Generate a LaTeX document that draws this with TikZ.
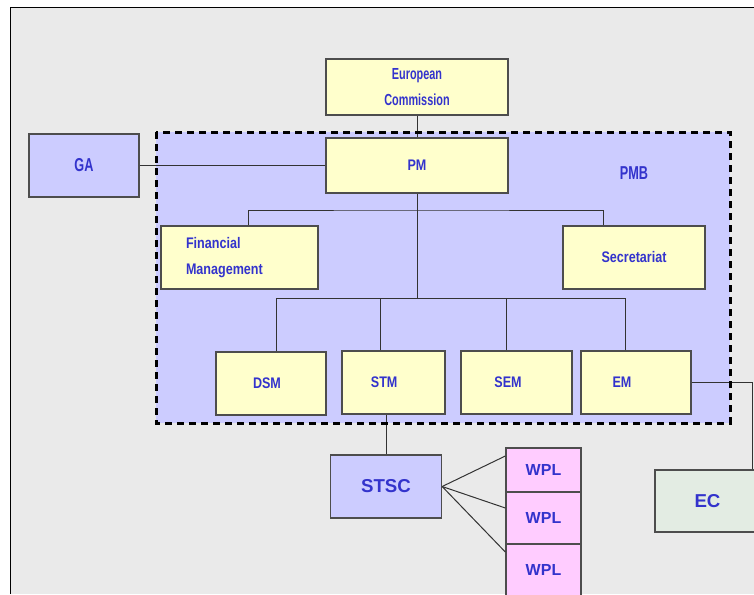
\documentclass[tikz,border=0pt]{standalone}
\usepackage{fontspec}
\setmainfont{Liberation Sans}
\newfontfamily\fwide{Liberation Sans}
\newfontfamily\fmid{Liberation Sans}[FakeStretch=0.82]
\newfontfamily\fnarrow{Liberation Sans}[FakeStretch=0.68]
\newcommand\pxl{0.75pt}
\definecolor{txtblue}{HTML}{3333CC}
\definecolor{boxyellow}{HTML}{FFFFCC}
\definecolor{boxlilac}{HTML}{CCCCFF}
\definecolor{boxpink}{HTML}{FFCCFF}
\definecolor{boxgreen}{HTML}{E3ECE3}
\definecolor{bggray}{HTML}{EAEAEA}
\definecolor{edgegray}{HTML}{4D4D4D}
\tikzset{dims/.style 2 args={minimum width=#1*\pxl,minimum height=#2*\pxl}}
\begin{document}
\begin{tikzpicture}[x=0.75pt,y=-0.75pt]
\tikzstyle{every node}+=[inner sep=0pt,text=txtblue,font=\fmid\bfseries\fontsize{11.5}{14}\selectfont]
\tikzstyle{orgbox}=[draw=edgegray,line width=1pt,rectangle]
\tikzstyle{bigtext}=[font=\fwide\bfseries\fontsize{14}{16}\selectfont]
\tikzstyle{link}=[draw=black!80,line width=0.75pt]
\useasboundingbox (0,0) rectangle (754,594);
\fill [bggray] (10,7) rectangle (754,594);
\draw [black,line width=0.75pt] (10,594) -- (10,7) -- (754,7);
% project management board
\coordinate (pmbnw) at (156,132);
\coordinate (pmbse) at (730,423);
\fill [boxlilac] (pmbnw) rectangle (pmbse);
\node [orgbox,fill=boxyellow,dims={182}{56},align=center,font=\fnarrow\bfseries\fontsize{12}{19.5}\selectfont] (eucomm) at (417,87) {European\\Commission};
\node [orgbox,fill=boxyellow,dims={182}{55}] (pm) at (417,165.5) {PM};
\node [orgbox,fill=boxlilac,dims={110}{63},font=\fnarrow\bfseries\fontsize{14}{16}\selectfont] (ga) at (84,165.5) {GA};
\node [font=\fnarrow\bfseries\fontsize{14}{16}\selectfont] (pmblabel) at (634,173) {PMB};
\node [orgbox,fill=boxyellow,dims={157}{63},text width=107*\pxl,inner xsep=25*\pxl,align=left,font=\fmid\bfseries\fontsize{11.5}{19.5}\selectfont] (finman) at (239.5,257.5) {Financial\\Management};
\node [orgbox,fill=boxyellow,dims={142}{63}] (secr) at (634,257.5) {Secretariat};
\node [orgbox,fill=boxyellow,dims={110}{63}] (dsm) at (271,383.5) {DSM\kern6pt};
\node [orgbox,fill=boxyellow,dims={103}{63}] (stm) at (393.5,382.5) {STM\kern14pt};
\node [orgbox,fill=boxyellow,dims={111}{63}] (sem) at (516.5,382.5) {SEM\kern12.75pt};
\node [orgbox,fill=boxyellow,dims={110}{63}] (em) at (636,382.5) {EM\kern21pt};
% steering committee and work packages
\node [orgbox,fill=boxlilac,dims={111}{63},bigtext] (stsc) at (386,486.5) {STSC};
\node [orgbox,fill=boxpink,dims={75}{44},font=\fwide\bfseries\fontsize{12}{14}\selectfont] (wpla) at (543.5,470) {WPL};
\node [orgbox,fill=boxpink,dims={75}{52},font=\fwide\bfseries\fontsize{12}{14}\selectfont] (wplb) at (543.5,518) {WPL};
\node [orgbox,fill=boxpink,dims={75}{52},font=\fwide\bfseries\fontsize{12}{14}\selectfont] (wplc) at (543.5,570) {WPL};
\node [orgbox,fill=boxgreen,dims={105}{62},bigtext] (ec) at (707.5,501) {EC};
% connectors
\coordinate (upbus) at (417,210);
\coordinate (lowbus) at (417,298);
\draw [link] (eucomm) -- (pm);
\draw [link] (ga) -- (pm);
\draw [link] (pm) -- (lowbus);
\draw [link] ([xshift=8.5*\pxl]finman.north) |- (upbus) -| ([xshift=-31*\pxl]secr.north);
\foreach \n/\dx in {dsm/5,stm/-13.5,sem/-10.5,em/-11}
  \draw [link] ([xshift=\dx*\pxl]\n.north) |- (lowbus);
\draw [link] (stsc.north) -- (stsc.north |- stm.south);
\draw [link] (em.east) -| ([xshift=44.5*\pxl]ec.north);
\foreach \n/\dy in {wpla/14,wplb/10,wplc/18}
  \draw [link] (stsc.east) -- ([yshift=\dy*\pxl]\n.west);
\draw [black,line width=2.25pt,dash pattern=on 5.25pt off 3.75pt] (pmbnw) rectangle (pmbse);
\end{tikzpicture}
\end{document}
